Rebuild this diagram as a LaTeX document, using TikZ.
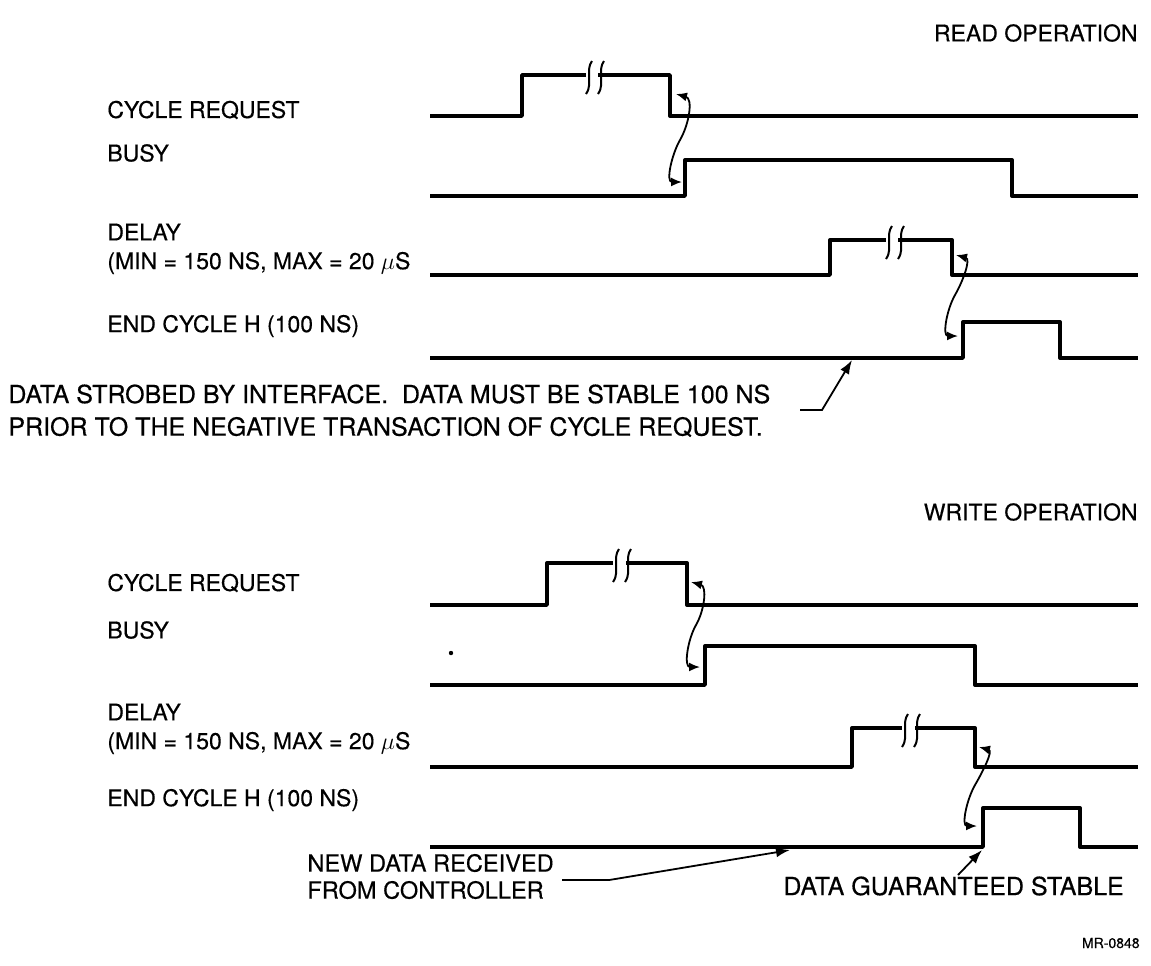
\documentclass[tikz,border=0pt]{standalone}
\usepackage{amsmath,amssymb}
\usepackage{fontspec}
\setmainfont{TeX Gyre Heros}
\newfontfamily\diagfont{TeX Gyre Heros}[FakeBold=0.4]
\usepackage{tikz}
\usetikzlibrary{arrows.meta,calc}

\begin{document}
\begin{tikzpicture}[
  x=0.5pt, y=0.5pt,
  lbl/.style={anchor=west, inner sep=0pt, font=\diagfont\fontsize{11.5}{13}\selectfont},
  note/.style={anchor=west, inner sep=0pt, font=\diagfont\fontsize{12.5}{14}\selectfont},
  wave/.style={line width=1.7pt, line join=round},
  brk/.style={line width=1pt},
  hand/.style={line width=0.9pt, {Latex[length=5.5pt,width=4.5pt]}-{Latex[length=5.5pt,width=4.5pt]}},
  ptr/.style={line width=0.9pt, -{Latex[length=7pt,width=5pt]}}
]
\useasboundingbox (0,0) rectangle (1151,-965);
% read operation
\node[lbl, anchor=east] (rop) at (1138,-33) {READ OPERATION};
\node[lbl] (rcr) at (107,-110) {CYCLE REQUEST};
\node[lbl] (rbusy) at (107,-153) {BUSY};
\node[lbl] (rdly) at (107,-232) {DELAY};
\node[lbl] (rdlym) at (107,-263) {(MIN = 150 NS, MAX = 20 $\mu$S};
\node[lbl] (rend) at (107,-326) {END CYCLE H (100 NS)};
\node[note] (rnote1) at (8,-394) {DATA STROBED BY INTERFACE.\ \ DATA MUST BE STABLE 100 NS};
\node[note] (rnote2) at (8,-427) {PRIOR TO THE NEGATIVE TRANSACTION OF CYCLE REQUEST.};
\draw[wave] (430,-116) -- (522,-116) -- (522,-75) -- (586,-75);
\draw[wave] (598,-75) -- (670,-75) -- (670,-116) -- (1138,-116);
\draw[wave] (430,-196) -- (685,-196) -- (685,-160) -- (1012,-160) -- (1012,-196) -- (1138,-196);
\draw[wave] (430,-275) -- (830,-275) -- (830,-240) -- (886,-240);
\draw[wave] (898,-240) -- (952,-240) -- (952,-275) -- (1138,-275);
\draw[wave] (430,-358) -- (963,-358) -- (963,-322) -- (1060,-322) -- (1060,-358) -- (1138,-358);
\foreach \x/\y in {589/-75, 601/-75, 889/-240, 901/-240}
  \draw[brk] (\x+3,\y+14) to[out=-125,in=90] (\x,\y) to[out=-90,in=55] (\x-3,\y-19);
\coordinate (rcrF) at (676,-94);
\coordinate (rbusyR) at (682,-182);
\coordinate (rdlyF) at (956,-255);
\coordinate (rendR) at (958,-336);
\draw[hand] (rcrF) to[out=-15,in=60] (680,-140) to[out=-120,in=180] (rbusyR);
\draw[hand] (rdlyF) to[out=-15,in=60] (955,-295) to[out=-120,in=180] (rendR);
\coordinate (rnoteA) at (800,-410);
\coordinate (rnoteB) at (822,-410);
\coordinate (rstrobe) at (852,-360);
\draw[ptr] (rnoteA) -- (rnoteB) -- (rstrobe);

% write operation
\node[lbl, anchor=east] (wop) at (1138,-512) {WRITE OPERATION};
\node[lbl] (wcr) at (107,-583) {CYCLE REQUEST};
\node[lbl] (wbusy) at (107,-630) {BUSY};
\node[lbl] (wdly) at (107,-712) {DELAY};
\node[lbl] (wdlym) at (107,-743) {(MIN = 150 NS, MAX = 20 $\mu$S};
\node[lbl] (wend) at (107,-800) {END CYCLE H (100 NS)};
\node[note, font=\diagfont\fontsize{11.8}{14}\selectfont] (wnew1) at (307,-863) {NEW DATA RECEIVED};
\node[note, font=\diagfont\fontsize{11.8}{14}\selectfont] (wnew2) at (307,-890) {FROM CONTROLLER};
\node[note] (wgrt) at (783,-886) {DATA GUARANTEED STABLE};
\node[anchor=east, inner sep=0pt, font=\diagfont\fontsize{7}{8}\selectfont] (mr) at (1140,-943) {MR-0848};
\fill (451,-653) circle (2.2);
\draw[wave] (430,-605) -- (547,-605) -- (547,-563) -- (613,-563);
\draw[wave] (626,-563) -- (687,-563) -- (687,-605) -- (1138,-605);
\draw[wave] (430,-685) -- (705,-685) -- (705,-646) -- (975,-646) -- (975,-685) -- (1138,-685);
\draw[wave] (430,-767) -- (852,-767) -- (852,-728) -- (902,-728);
\draw[wave] (915,-728) -- (975,-728) -- (975,-767) -- (1138,-767);
\draw[wave] (430,-847) -- (983,-847) -- (983,-808) -- (1080,-808) -- (1080,-847) -- (1138,-847);
\foreach \x/\y in {616/-563, 628/-563, 905/-728, 917/-728}
  \draw[brk] (\x+3,\y+14) to[out=-125,in=90] (\x,\y) to[out=-90,in=55] (\x-3,\y-19);
\coordinate (wcrF) at (691,-582);
\coordinate (wbusyR) at (700,-667);
\coordinate (wdlyF) at (979,-747);
\coordinate (wendR) at (977,-826);
\draw[hand] (wcrF) to[out=-15,in=60] (696,-625) to[out=-120,in=180] (wbusyR);
\draw[hand] (wdlyF) to[out=-15,in=60] (975,-785) to[out=-120,in=180] (wendR);
\coordinate (wnewA) at ($(wnew1.east)+(8,-17)$);
\coordinate (wnewB) at ($(wnewA)+(47,0)$);
\coordinate (wnewT) at (790,-850);
\draw[ptr] (wnewA) -- (wnewB) -- (wnewT);
\coordinate (wgrtA) at (958,-875);
\coordinate (wgrtT) at (982,-850);
\draw[ptr] (wgrtA) -- (wgrtT);
\end{tikzpicture}
\end{document}
